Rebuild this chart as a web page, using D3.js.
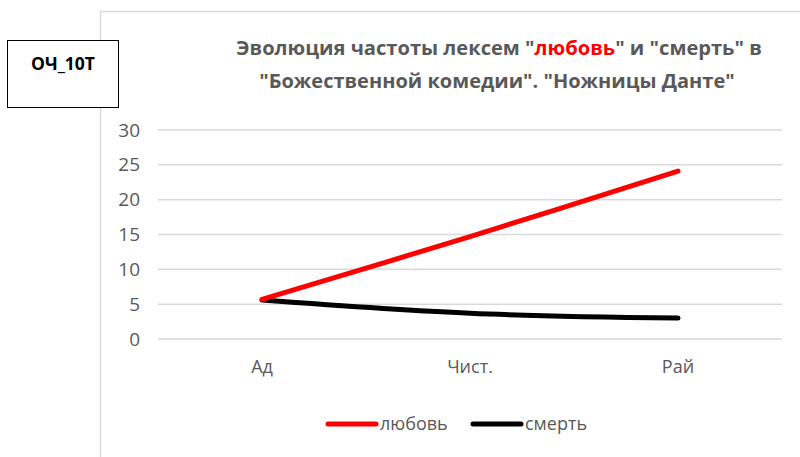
<!DOCTYPE html>
<html>
<head>
<meta charset="utf-8">
<script src="https://cdn.jsdelivr.net/npm/d3@7"></script>
<style>
  body { margin: 0; background: #fff; }
  svg { display: block; font-family: "Open Sans", "Noto Sans", sans-serif; }
</style>
</head>
<body>
<div id="chart"></div>
<script>
// chart data
const categories = ['Ад', 'Чист.', 'Рай'];
const loveValues = [5.7, 14.7, 24.1];
const deathValues = [5.6, 3.7, 3.0];
const yTicks = [0, 5, 10, 15, 20, 25, 30];
const seriesNames = ['любовь', 'смерть'];

const width = 800, height = 457;
const svg = d3.select('#chart').append('svg')
  .attr('width', width)
  .attr('height', height);

// fit a text to the width seen in the picture
function fitWidth(sel, target) {
  const fs = 18;
  sel.attr('font-size', fs);
  const w = sel.node().getComputedTextLength();
  sel.attr('font-size', fs * target / w);
}

// chart area frame
svg.append('rect')
  .attr('x', 100.5).attr('y', 11.5)
  .attr('width', 710).attr('height', 460)
  .attr('fill', '#fff')
  .attr('stroke', '#d9d9d9')
  .attr('stroke-width', 1.5);

// label box in the corner
svg.append('rect')
  .attr('x', 7.5).attr('y', 40.5)
  .attr('width', 111).attr('height', 67)
  .attr('fill', '#fff')
  .attr('stroke', '#000')
  .attr('stroke-width', 1);
const boxLabel = svg.append('text')
  .attr('x', 63).attr('y', 70)
  .attr('text-anchor', 'middle')
  .attr('font-weight', 'bold')
  .attr('fill', '#000')
  .text('ОЧ_10Т');
fitWidth(boxLabel, 64);

// title
const title = svg.append('g')
  .attr('font-weight', 'bold')
  .attr('fill', '#595959')
  .attr('text-anchor', 'middle');
const line1 = title.append('text').attr('x', 499).attr('y', 55);
line1.append('tspan').text('Эволюция частоты лексем "');
line1.append('tspan').attr('fill', '#ff0000').text('любовь');
line1.append('tspan').text('" и "смерть" в');
const line2 = title.append('text').attr('x', 497).attr('y', 88)
  .text('"Божественной комедии". "Ножницы Данте"');
fitWidth(line1, 526);
fitWidth(line2, 476);

// scales
const margin = { left: 158, right: 782, top: 130, bottom: 339 };
const x = d3.scaleBand().domain(categories).range([margin.left, margin.right]);
const y = d3.scaleLinear().domain([0, 30]).range([margin.bottom, margin.top]);

// gridlines
svg.append('g')
  .selectAll('line')
  .data(yTicks)
  .join('line')
  .attr('x1', margin.left).attr('x2', margin.right)
  .attr('y1', d => y(d)).attr('y2', d => y(d))
  .attr('stroke', '#d9d9d9')
  .attr('stroke-width', 1.5);

// y axis labels
const yAxis = svg.append('g')
  .attr('transform', `translate(${margin.left - 10},0)`)
  .call(d3.axisLeft(y).tickValues(yTicks).tickSize(0).tickPadding(8));
yAxis.select('.domain').remove();
yAxis.selectAll('text')
  .attr('font-family', '"Open Sans", sans-serif')
  .attr('font-size', 19)
  .attr('fill', '#595959');

// x axis labels
const xAxis = svg.append('g')
  .attr('transform', `translate(0,${margin.bottom + 13})`)
  .call(d3.axisBottom(x).tickSize(0).tickPadding(8));
xAxis.select('.domain').remove();
xAxis.selectAll('text')
  .attr('font-family', '"Open Sans", sans-serif')
  .attr('font-size', 18)
  .attr('fill', '#595959');

// lines
const line = d3.line()
  .x((d, i) => x(categories[i]) + x.bandwidth() / 2)
  .y(d => y(d))
  .curve(d3.curveCatmullRom.alpha(0.5));

svg.append('path')
  .datum(deathValues)
  .attr('d', line)
  .attr('fill', 'none')
  .attr('stroke', '#000')
  .attr('stroke-width', 5)
  .attr('stroke-linecap', 'round');

svg.append('path')
  .datum(loveValues)
  .attr('d', line)
  .attr('fill', 'none')
  .attr('stroke', '#ff0000')
  .attr('stroke-width', 5)
  .attr('stroke-linecap', 'round');

// legend
const legendColors = ['#ff0000', '#000'];
const legendX = [328, 473];
const legend = svg.append('g')
  .selectAll('g')
  .data(seriesNames)
  .join('g')
  .attr('transform', (d, i) => `translate(${legendX[i]},424)`);
legend.append('line')
  .attr('x1', 0).attr('x2', 48)
  .attr('stroke', (d, i) => legendColors[i])
  .attr('stroke-width', 5)
  .attr('stroke-linecap', 'round');
legend.append('text')
  .attr('x', 52).attr('y', 6)
  .attr('font-size', 18)
  .attr('fill', '#595959')
  .text(d => d);
</script>
</body>
</html>
